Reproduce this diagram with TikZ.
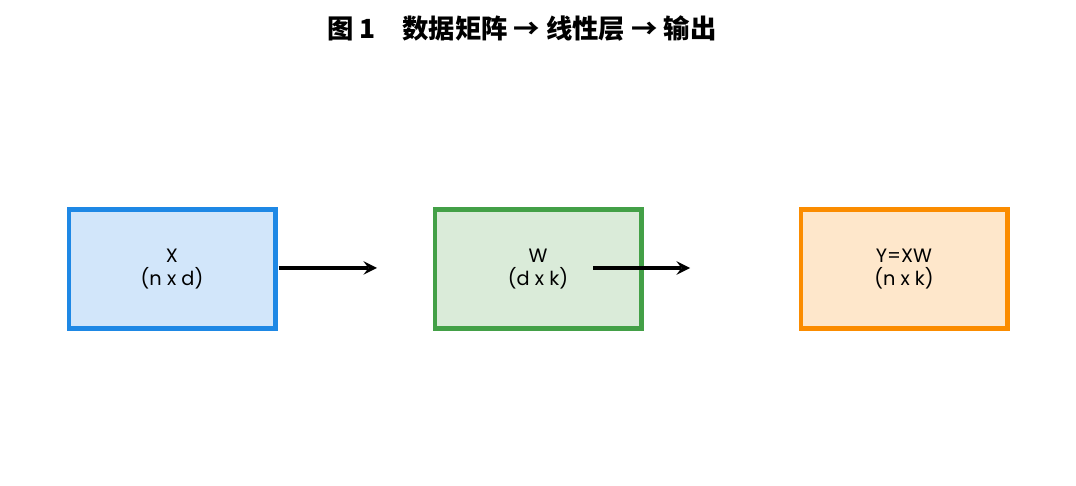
\documentclass[tikz,border=0pt]{standalone}
\usepackage{fontspec}
\setmainfont{Poppins}
\newfontfamily\cjk{Noto Sans CJK SC}
\usetikzlibrary{arrows,positioning}
\definecolor{xline}{HTML}{1E88E5}\definecolor{xfill}{HTML}{D2E6FA}
\definecolor{wline}{HTML}{43A047}\definecolor{wfill}{HTML}{DAEBD9}
\definecolor{yline}{HTML}{FB8C00}\definecolor{yfill}{HTML}{FEE7CB}

\begin{document}
\begin{tikzpicture}[x=0.02cm,y=-0.02cm,
  mat/.style={draw,line width=2.3pt,minimum width=4.14cm,minimum height=2.38cm,
    align=center,font=\fontsize{11}{13}\selectfont},
  flow/.style={->,>=stealth,line width=2.3pt}]
  \useasboundingbox (0,0) rectangle (1076,486);
  \node (title) at (522,29) {\fontsize{15}{18}\selectfont\cjk\bfseries 图 1\quad 数据矩阵 → 线性层 → 输出};

  \node[mat,draw=xline,fill=xfill] (X) at (172,269) {X\\(n x d)};
  \node[mat,draw=wline,fill=wfill] (W) at (538,269) {W\\(d x k)};
  \node[mat,draw=yline,fill=yfill] (Y) at (904,269) {Y=XW\\(n x k)};

  %% arrows
  \coordinate (a1) at (377,268);
  \coordinate (b2) at (593,268);
  \coordinate (a2) at (690,268);
  \draw[flow] (X.east) ++(1,-1) -- (a1);
  \draw[flow] (b2) -- (a2);
\end{tikzpicture}
\end{document}
